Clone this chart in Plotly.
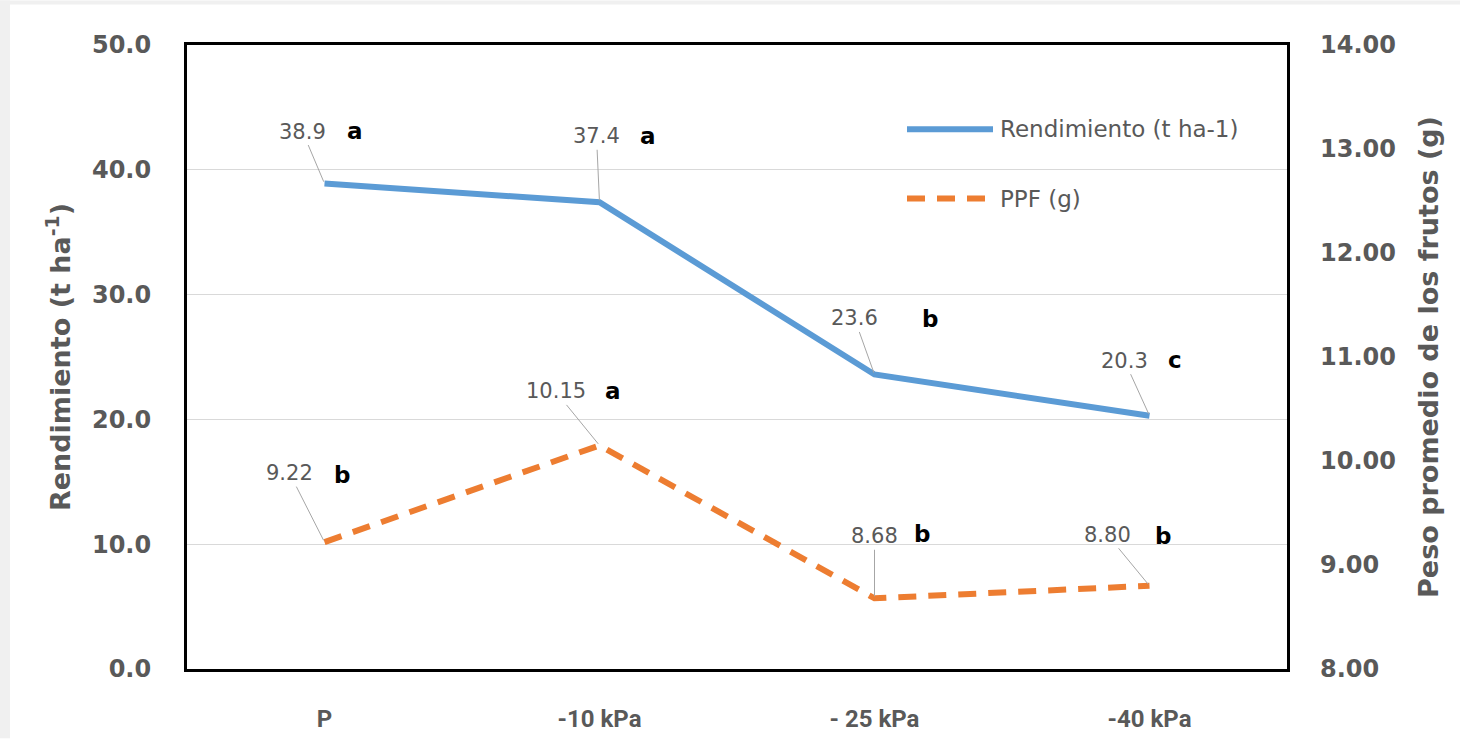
import plotly.graph_objects as go

# Treatments (x categories)
tratamientos = ["P", "-10 kPa", "- 25 kPa", "-40 kPa"]

# Yield (t ha-1), left axis
rendimiento = [38.9, 37.4, 23.6, 20.3]
letras_rend = ["a", "a", "b", "c"]

# Average fruit weight (g), right axis
ppf = [9.22, 10.15, 8.68, 8.80]
letras_ppf = ["b", "a", "b", "b"]

# Label placement offsets (pixels) relative to each point
off_rend_lbl = [(-22, -52), (-3, -66), (-20, -56), (-25, -55)]
off_rend_let = [(30, 53), (48, 66), (55, 55), (25, 56)]
off_ppf_lbl = [(-35, -69), (-44, -54), (0, -62), (-42, -51)]
off_ppf_let = [(17, 67), (13, 54), (47, 64), (13, 50)]

BLUE = "#5b9bd5"
ORANGE = "#ed7d31"
GRAY_TXT = "#595959"
FONT = "DejaVu Sans"

W, H = 1460, 745
ML, MR, MT, MB = 187, 173, 45, 70
PW, PH = W - ML - MR, H - MT - MB


def px_x(x):
    return (x - ML) / PW


def px_y(y):
    return (H - MB - y) / PH


fig = go.Figure()
fig.add_trace(go.Scatter(
    x=tratamientos, y=rendimiento, mode="lines", name="Rendimiento (t ha-1)",
    line=dict(color=BLUE, width=6), yaxis="y", showlegend=False,
))
fig.add_trace(go.Scatter(
    x=tratamientos, y=ppf, mode="lines", name="PPF (g)",
    line=dict(color=ORANGE, width=6, dash="18px,12px"), yaxis="y2", showlegend=False,
))

annotations = []


def add_labels(values, letters, lbl_off, let_off, yref, fmt):
    for cat, v, let, (ax, ay), (sx, sy) in zip(tratamientos, values, letters, lbl_off, let_off):
        annotations.append(dict(
            x=cat, y=v, xref="x", yref=yref, text=fmt.format(v),
            showarrow=True, arrowhead=0, arrowwidth=1, arrowcolor="#a6a6a6",
            ax=ax, ay=ay, standoff=2,
            font=dict(family=FONT, size=21, color=GRAY_TXT),
        ))
        annotations.append(dict(
            x=cat, y=v, xref="x", yref=yref, text=let, showarrow=False,
            xshift=sx, yshift=sy,
            font=dict(family=FONT, size=23, color="black", weight="bold"),
        ))


add_labels(rendimiento, letras_rend, off_rend_lbl, off_rend_let, "y", "{:.1f}")
add_labels(ppf, letras_ppf, off_ppf_lbl, off_ppf_let, "y2", "{:.2f}")

# In-plot legend drawn with shapes and text
shapes = []
legend_items = [("Rendimiento (t ha-1)", BLUE, "solid", 130),
                ("PPF (g)", ORANGE, "18px,12px", 200)]
for name, color, dash, yy in legend_items:
    shapes.append(dict(
        type="line", xref="paper", yref="paper",
        x0=px_x(907), x1=px_x(993), y0=px_y(yy), y1=px_y(yy),
        line=dict(color=color, width=6, dash=dash),
    ))
    annotations.append(dict(
        x=px_x(998), y=px_y(yy), xref="paper", yref="paper", text=name,
        showarrow=False, xanchor="left", yanchor="middle",
        font=dict(family=FONT, size=23, color=GRAY_TXT),
    ))

# Light frame strips around the white page
shapes.append(dict(type="rect", xref="paper", yref="paper", layer="below",
                   x0=px_x(0), x1=px_x(10), y0=px_y(H), y1=px_y(0),
                   fillcolor="#f0f0f0", line=dict(width=0)))
shapes.append(dict(type="rect", xref="paper", yref="paper", layer="below",
                   x0=px_x(0), x1=px_x(W), y0=px_y(4), y1=px_y(0),
                   fillcolor="#f0f0f0", line=dict(width=0)))

fig.update_layout(
    width=W, height=H,
    margin=dict(l=ML, r=MR, t=MT, b=MB),
    paper_bgcolor="white", plot_bgcolor="white",
    showlegend=False,
    xaxis=dict(
        type="category", range=[-0.5, 3.5],
        showline=True, mirror=True, linecolor="black", linewidth=3,
        showgrid=False, ticks="", ticklabelstandoff=26,
        tickfont=dict(family="Liberation Sans Narrow, Roboto, sans-serif",
                      size=24, color=GRAY_TXT, weight="bold"),
    ),
    yaxis=dict(
        range=[0, 50], dtick=10, tickformat=".1f",
        showline=True, mirror=True, linecolor="black", linewidth=3,
        showgrid=True, gridcolor="#d9d9d9", gridwidth=1, zeroline=False,
        ticks="", ticklabelstandoff=28,
        tickfont=dict(family=FONT, size=24, color=GRAY_TXT, weight="bold"),
        title=dict(text="Rendimiento (t ha<sup>-1</sup>)", standoff=14,
                   font=dict(family=FONT, size=27, color=GRAY_TXT, weight="bold")),
    ),
    yaxis2=dict(
        overlaying="y", side="right", range=[8, 14], dtick=1, tickformat=".2f",
        showline=False, showgrid=False, zeroline=False,
        ticks="", ticklabelstandoff=32,
        tickfont=dict(family=FONT, size=24, color=GRAY_TXT, weight="bold"),
        title=dict(text="Peso promedio de los frutos (g)", standoff=24,
                   font=dict(family=FONT, size=27, color=GRAY_TXT, weight="bold")),
    ),
    annotations=annotations,
    shapes=shapes,
)

fig.write_html("out.html")
